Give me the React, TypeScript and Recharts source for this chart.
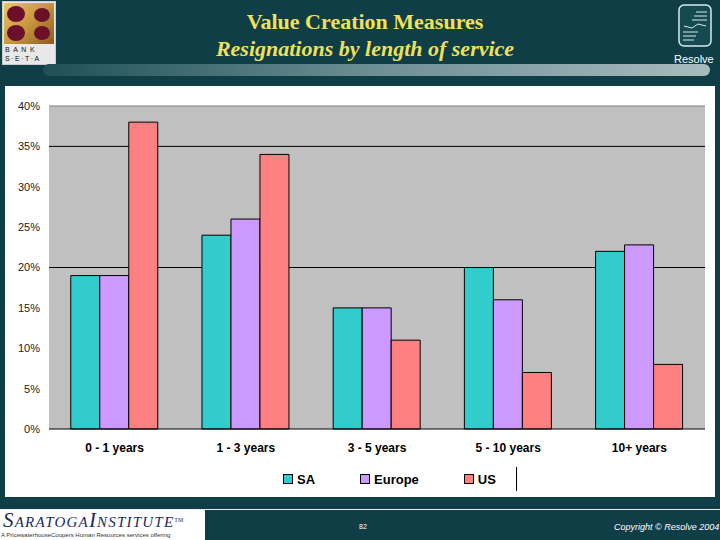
import React from "react";
import {
  BarChart,
  Bar,
  XAxis,
  YAxis,
  CartesianGrid,
  ReferenceLine,
  Legend,
} from "recharts";

const categories = ["0 - 1 years", "1 - 3 years", "3 - 5 years", "5 - 10 years", "10+ years"];
const saValues = [19, 24, 15, 20, 22];
const europeValues = [19, 26, 15, 16, 22.8];
const usValues = [38, 34, 11, 7, 8];
const yTicks = [0, 5, 10, 15, 20, 25, 30, 35, 40];
const gridValues = [20, 35];

const seriesNames = ["SA", "Europe", "US"];
const seriesColors = ["#33cccc", "#cc99ff", "#ff8080"];

const chartData = categories.map((name, i) => ({
  name,
  SA: saValues[i],
  Europe: europeValues[i],
  US: usValues[i],
}));

const SANS = "'Liberation Sans', Arial, sans-serif";
const SERIF = "'Liberation Serif', 'Times New Roman', serif";
const BG = "#0f3e47";

function LegendBox() {
  return (
    <div style={{ display: "flex", alignItems: "center", marginLeft: 278, height: 26 }}>
      {seriesNames.map((s, i) => (
        <div key={s} style={{ display: "flex", alignItems: "center", marginRight: i < 2 ? 45 : 20 }}>
          <span
            style={{
              width: 8,
              height: 8,
              background: seriesColors[i],
              border: "1px solid #000",
              marginRight: 4,
              display: "inline-block",
            }}
          />
          <span style={{ fontFamily: SANS, fontWeight: 700, fontSize: 13, color: "#000" }}>{s}</span>
        </div>
      ))}
      <div style={{ width: 0, height: 24, borderLeft: "1px solid #000" }} />
    </div>
  );
}

function BankLogo() {
  return (
    <div
      style={{
        position: "absolute",
        left: 2,
        top: 1,
        width: 54,
        height: 64,
        background: "#e8e8e8",
        boxSizing: "border-box",
        border: "1px solid #ccc",
      }}
    >
      <div
        style={{
          position: "absolute",
          left: 1,
          top: 1,
          width: 50,
          height: 41,
          background: "linear-gradient(135deg, #e9c46a 0%, #c8973e 50%, #8a5a1e 100%)",
        }}
      >
        <svg width={50} height={41} style={{ position: "absolute", left: 0, top: 0 }}>
          <ellipse cx={12} cy={11} rx={9} ry={8} fill="#6b0f2a" />
          <ellipse cx={12} cy={30} rx={9} ry={8} fill="#6b0f2a" />
          <ellipse cx={38} cy={12} rx={8} ry={7} fill="#6b0f2a" />
          <ellipse cx={38} cy={30} rx={8} ry={7} fill="#6b0f2a" />
        </svg>
      </div>
      <div
        style={{
          position: "absolute",
          left: 2,
          top: 43,
          width: 50,
          fontFamily: SANS,
          fontSize: 7,
          color: "#111",
          letterSpacing: 3.5,
          lineHeight: "9px",
          whiteSpace: "nowrap",
        }}
      >
        <div>BANK</div>
        <div style={{ letterSpacing: 1.5 }}>S·E·T·A</div>
      </div>
    </div>
  );
}

function ResolveLogo() {
  return (
    <>
      <svg style={{ position: "absolute", left: 678, top: 4 }} width={35} height={44}>
        <rect x={1} y={1} width={32} height={41} rx={5} fill="#164a52" stroke="#d6ecec" strokeWidth={1.5} />
        <line x1={18} y1={8} x2={29} y2={8} stroke="#d6ecec" />
        <line x1={16} y1={12} x2={29} y2={12} stroke="#d6ecec" />
        <line x1={14} y1={16} x2={29} y2={16} stroke="#d6ecec" />
        <polyline points="6,22 14,24 20,20 28,22" fill="none" stroke="#d6ecec" />
        <line x1={5} y1={28} x2={20} y2={28} stroke="#d6ecec" />
        <line x1={5} y1={32} x2={18} y2={32} stroke="#d6ecec" />
        <line x1={5} y1={36} x2={16} y2={36} stroke="#d6ecec" />
      </svg>
      <div
        style={{
          position: "absolute",
          left: 674,
          top: 53,
          fontFamily: SANS,
          fontSize: 11,
          color: "#fff",
        }}
      >
        Resolve
      </div>
    </>
  );
}

export default function App() {
  return (
    <div
      style={{
        position: "absolute",
        left: 0,
        top: 0,
        width: 720,
        height: 540,
        background: BG,
        overflow: "hidden",
      }}
    >
      <BankLogo />
      <div
        style={{
          position: "absolute",
          left: 0,
          width: 730,
          top: 8,
          textAlign: "center",
          fontFamily: SERIF,
          fontWeight: 700,
          fontSize: 22,
          color: "#f0e05a",
          lineHeight: "27px",
        }}
      >
        <div>Value Creation Measures</div>
        <div style={{ fontStyle: "italic" }}>Resignations by length of service</div>
      </div>
      <ResolveLogo />
      <div
        style={{
          position: "absolute",
          left: 43,
          top: 64,
          width: 667,
          height: 12,
          borderRadius: 6,
          background: "linear-gradient(90deg, #1f5058 0%, #6d8f94 50%, #a8bcbf 100%)",
        }}
      />

      <div style={{ position: "absolute", left: 5, top: 86, width: 710, height: 411, background: "#fff" }}>
        <BarChart
          width={710}
          height={411}
          data={chartData}
          margin={{ top: 20, right: 10, left: 0, bottom: 0 }}
          barCategoryGap="16.6%"
          barGap={0}
        >
          <CartesianGrid
            fill="#c0c0c0"
            vertical={false}
            horizontalValues={gridValues}
            stroke="#000"
            strokeWidth={1}
          />
          <XAxis
            dataKey="name"
            height={68}
            axisLine={{ stroke: "#000" }}
            tickLine={false}
            tickMargin={8}
            tick={{ fontSize: 12, fontWeight: 700, fill: "#000", fontFamily: SANS }}
          />
          <YAxis
            width={44}
            domain={[0, 40]}
            ticks={yTicks}
            interval={0}
            axisLine={false}
            tickLine={false}
            tickMargin={3}
            tickFormatter={(v) => `${v}%`}
            tick={{ fontSize: 11, fill: "#222", fontFamily: SANS }}
          />
          <YAxis
            yAxisId="right"
            orientation="right"
            width={0}
            domain={[0, 40]}
            axisLine={{ stroke: "#808080" }}
            tick={false}
            tickLine={false}
          />
          <ReferenceLine y={40} stroke="#808080" />
          <Legend
            layout="horizontal"
            verticalAlign="middle"
            wrapperStyle={{ top: 380, left: 0, width: 710 }}
            content={() => <LegendBox />}
          />
          {seriesNames.map((s, i) => (
            <Bar
              key={s}
              dataKey={s}
              fill={seriesColors[i]}
              stroke="#000"
              strokeWidth={1}
              isAnimationActive={false}
            />
          ))}
        </BarChart>
      </div>

      <div style={{ position: "absolute", left: 0, top: 509, width: 720, height: 1, background: "#e8eeee" }} />
      <div style={{ position: "absolute", left: 0, top: 510, width: 205, height: 30, background: "#fff" }}>
        <div
          style={{
            position: "absolute",
            left: 3,
            top: 0,
            fontFamily: SERIF,
            fontStyle: "italic",
            fontSize: 21,
            fontVariant: "small-caps",
            color: "#1c2a5c",
            letterSpacing: 1.2,
            lineHeight: "21px",
            whiteSpace: "nowrap",
          }}
        >
          SaratogaInstitute
          <span style={{ fontSize: 6, fontStyle: "normal", verticalAlign: "top", letterSpacing: 0 }}>TM</span>
        </div>
        <div
          style={{
            position: "absolute",
            left: 1,
            top: 22,
            fontFamily: SANS,
            fontSize: 6,
            lineHeight: "7px",
            color: "#333",
            whiteSpace: "nowrap",
          }}
        >
          A PricewaterhouseCoopers Human Resources services offering
        </div>
      </div>
      <div style={{ position: "absolute", left: 359, top: 523, fontFamily: SANS, fontSize: 7, color: "#fff" }}>82</div>
      <div
        style={{
          position: "absolute",
          left: 614,
          top: 522,
          fontFamily: SANS,
          fontStyle: "italic",
          fontSize: 9,
          color: "#fff",
        }}
      >
        Copyright © Resolve 2004
      </div>
    </div>
  );
}
